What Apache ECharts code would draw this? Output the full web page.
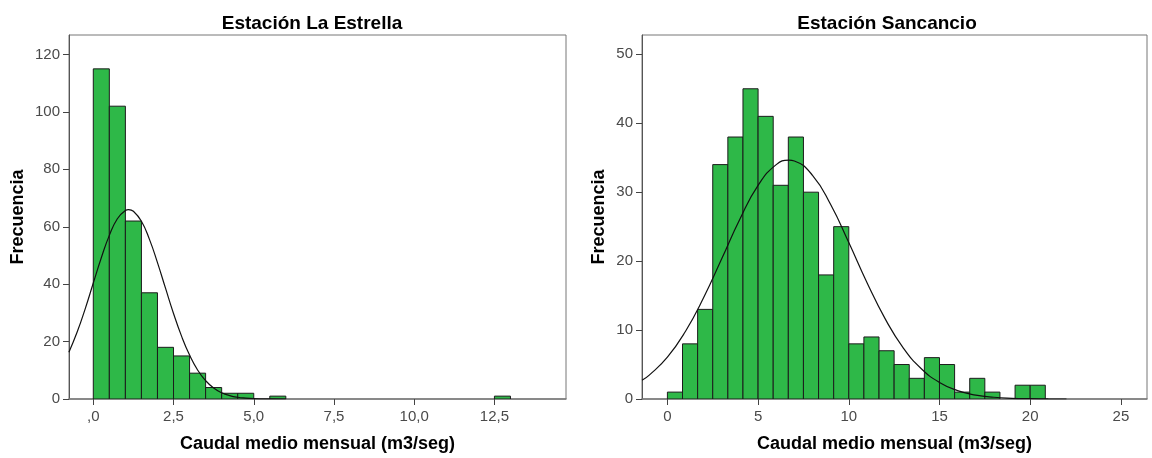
<!DOCTYPE html>
<html>
<head>
<meta charset="utf-8">
<script src="https://cdn.jsdelivr.net/npm/echarts@6/dist/echarts.min.js"></script>
<style>
html,body{margin:0;padding:0;background:#fff;}
#c{width:1152px;height:458px;}
</style>
</head>
<body>
<div id="c"></div>
<script>
// ---------- DATA ----------
// Estación La Estrella: bin lower edges, bin width, frequencies
const leftBinStarts = [0,0.5,1,1.5,2,2.5,3,3.5,4,4.5,5,5.5,6,6.5,7,7.5,8,8.5,9,9.5,10,10.5,11,11.5,12,12.5];
const leftBinWidth = 0.5;
const leftCounts = [115,102,62,37,18,15,9,4,2,2,0,1,0,0,0,0,0,0,0,0,0,0,0,0,0,1];
// normal curve points [x, frequency]
const leftCurve = [[-0.76,16.3],[-0.5,23.4],[-0.25,31.5],[0,40.4],[0.25,49.2],[0.5,57.0],[0.75,62.8],[1.0,65.7],[1.1,66.0],[1.25,65.4],[1.5,61.9],[1.75,55.6],[2.0,47.5],[2.25,38.6],[2.5,29.8],[2.75,21.9],[3.0,15.3],[3.25,10.1],[3.5,6.4],[3.75,3.8],[4.0,2.2],[4.25,1.2],[4.5,0.6],[4.75,0.3],[5.0,0.14],[5.5,0.03],[6.0,0]];
const leftXTickValues = [0,2.5,5,7.5,10,12.5];
const leftXTickLabels = [',0','2,5','5,0','7,5','10,0','12,5'];
const leftYTickValues = [0,20,40,60,80,100,120];
const leftYTickLabels = ['0','20','40','60','80','100','120'];

// Estación Sancancio
const rightBinStarts = [0,0.8333,1.6667,2.5,3.3333,4.1667,5,5.8333,6.6667,7.5,8.3333,9.1667,10,10.8333,11.6667,12.5,13.3333,14.1667,15,15.8333,16.6667,17.5,18.3333,19.1667,20];
const rightBinWidth = 0.8333;
const rightCounts = [1,8,13,34,38,45,41,31,38,30,18,25,8,9,7,5,3,6,5,1,3,1,0,2,2];
const rightCurve = [[-1.4,2.72],[-1,3.47],[0,6.07],[1,9.83],[2,14.71],[3,20.37],[4,26.12],[5,30.98],[6,34.0],[6.7,34.65],[7,34.53],[8,32.45],[9,28.22],[10,22.7],[11,16.91],[12,11.66],[13,7.43],[14,4.39],[15,2.40],[16,1.21],[17,0.57],[18,0.25],[19,0.10],[20,0.04],[21,0.01],[22,0]];
const rightXTickValues = [0,5,10,15,20,25];
const rightXTickLabels = ['0','5','10','15','20','25'];
const rightYTickValues = [0,10,20,30,40,50];
const rightYTickLabels = ['0','10','20','30','40','50'];

const titles = ['Estación La Estrella','Estación Sancancio'];
const xName = 'Caudal medio mensual (m3/seg)';
const yName = 'Frecuencia';

// ---------- STYLE ----------
const GREEN = '#2eb848';
const FONT = '"Liberation Sans", Arial, sans-serif';
const TICKCOL = '#4a4a4a';

function binData(starts, w, counts){
  const d = [];
  for (let i=0;i<starts.length;i++){ if (counts[i]>0) d.push([starts[i], starts[i]+w, counts[i]]); }
  return d;
}
function renderBar(params, api){
  const p0 = api.coord([api.value(0), 0]);
  const p1 = api.coord([api.value(1), api.value(2)]);
  return {
    type:'rect',
    shape:{x:p0[0], y:p1[1], width:p1[0]-p0[0], height:p0[1]-p1[1]},
    style:{fill:GREEN, stroke:'#1c1c1c', lineWidth:1}
  };
}
function xAxisCfg(idx, min, max, vals, labels){
  return {
    type:'value', gridIndex:idx, min:min, max:max,
    name:xName, nameLocation:'middle', nameGap:36,
    nameTextStyle:{fontFamily:FONT, fontSize:18, fontWeight:'bold', color:'#000'},
    axisLine:{show:true, onZero:false, lineStyle:{color:'#7a7a7a', width:1.5}},
    axisTick:{show:true, length:6, customValues:vals, lineStyle:{color:'#444'}},
    axisLabel:{show:true, margin:10, customValues:vals, fontFamily:FONT, fontSize:15, color:TICKCOL,
      formatter:function(v){ const i = vals.indexOf(v); return i>=0 ? labels[i] : ''; }},
    splitLine:{show:false}
  };
}
function yAxisCfg(idx, max, vals, labels, gap){
  return {
    type:'value', gridIndex:idx, min:0, max:max,
    name:yName, nameLocation:'middle', nameGap:gap, nameRotate:90,
    nameTextStyle:{fontFamily:FONT, fontSize:18, fontWeight:'bold', color:'#000'},
    axisLine:{show:true, onZero:false, lineStyle:{color:'#555', width:1}},
    axisTick:{show:true, length:6, customValues:vals, lineStyle:{color:'#444'}},
    axisLabel:{show:true, margin:9, customValues:vals, fontFamily:FONT, fontSize:15, color:TICKCOL,
      formatter:function(v){ const i = vals.indexOf(v); return i>=0 ? labels[i] : ''; }},
    splitLine:{show:false}
  };
}

const chart = echarts.init(document.getElementById('c'), null, {renderer:'canvas'});
chart.setOption({
  backgroundColor:'#fff',
  animation:false,
  title:[
    {text:titles[0], left:312, top:14, textAlign:'center', padding:0,
     textStyle:{fontFamily:FONT, fontSize:19, fontWeight:'bold', color:'#000'}},
    {text:titles[1], left:887, top:14, textAlign:'center', padding:0,
     textStyle:{fontFamily:FONT, fontSize:19, fontWeight:'bold', color:'#000'}}
  ],
  grid:[
    {left:69, top:35, width:497, height:366, show:true, borderColor:'#777', borderWidth:1, backgroundColor:'#fff'},
    {left:642, top:35, width:505, height:366, show:true, borderColor:'#777', borderWidth:1, backgroundColor:'#fff'}
  ],
  xAxis:[
    xAxisCfg(0, -0.757, 14.73, leftXTickValues, leftXTickLabels),
    xAxisCfg(1, -1.40, 26.44, rightXTickValues, rightXTickLabels)
  ],
  yAxis:[
    yAxisCfg(0, 126.8, leftYTickValues, leftYTickLabels, 42),
    yAxisCfg(1, 52.8, rightYTickValues, rightYTickLabels, 34)
  ],
  series:[
    {type:'custom', xAxisIndex:0, yAxisIndex:0, renderItem:renderBar,
     encode:{x:[0,1], y:2}, data:binData(leftBinStarts, leftBinWidth, leftCounts), clip:true},
    {type:'line', xAxisIndex:0, yAxisIndex:0, data:leftCurve, smooth:true, showSymbol:false,
     lineStyle:{color:'#111', width:1.2}, clip:true, z:5},
    {type:'custom', xAxisIndex:1, yAxisIndex:1, renderItem:renderBar,
     encode:{x:[0,1], y:2}, data:binData(rightBinStarts, rightBinWidth, rightCounts), clip:true},
    {type:'line', xAxisIndex:1, yAxisIndex:1, data:rightCurve, smooth:true, showSymbol:false,
     lineStyle:{color:'#111', width:1.2}, clip:true, z:5}
  ]
});
</script>
</body>
</html>
